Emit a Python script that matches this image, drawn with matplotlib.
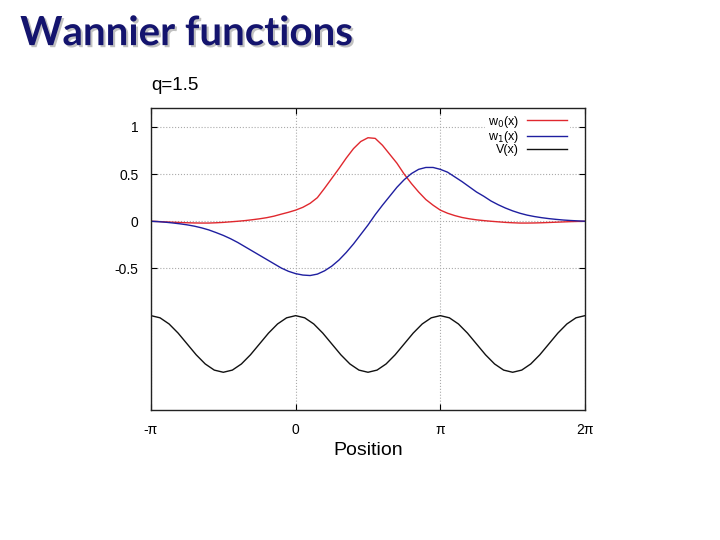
import numpy as np
import matplotlib
matplotlib.use('Agg')
import matplotlib.pyplot as plt
import matplotlib.patheffects as pe

# positions in units of pi
x_w = [-1.00, -0.95, -0.90, -0.85, -0.80, -0.75, -0.70, -0.65, -0.60, -0.55,
       -0.50, -0.45, -0.40, -0.35, -0.30, -0.25, -0.20, -0.15, -0.10, -0.05,
       0.00, 0.05, 0.10, 0.15, 0.20, 0.25, 0.30, 0.35, 0.40, 0.45,
       0.50, 0.55, 0.60, 0.65, 0.70, 0.75, 0.80, 0.85, 0.90, 0.95,
       1.00, 1.05, 1.10, 1.15, 1.20, 1.25, 1.30, 1.35, 1.40, 1.45,
       1.50, 1.55, 1.60, 1.65, 1.70, 1.75, 1.80, 1.85, 1.90, 1.95, 2.00]

w0 = [0.000, -0.003, -0.007, -0.010, -0.013, -0.016, -0.018, -0.019, -0.019, -0.016,
      -0.012, -0.006, 0.000, 0.007, 0.016, 0.026, 0.038, 0.054, 0.075, 0.095,
      0.118, 0.148, 0.190, 0.250, 0.350, 0.455, 0.560, 0.670, 0.770, 0.845,
      0.885, 0.878, 0.805, 0.710, 0.615, 0.500, 0.400, 0.310, 0.230, 0.170,
      0.118, 0.085, 0.060, 0.040, 0.026, 0.015, 0.007, 0.000, -0.006, -0.012,
      -0.016, -0.019, -0.019, -0.018, -0.016, -0.013, -0.010, -0.007, -0.004, -0.002, 0.000]

w1 = [0.000, -0.004, -0.010, -0.018, -0.027, -0.038, -0.052, -0.070, -0.092, -0.120,
      -0.150, -0.185, -0.225, -0.270, -0.315, -0.360, -0.405, -0.450, -0.495, -0.530,
      -0.555, -0.570, -0.575, -0.560, -0.525, -0.475, -0.410, -0.330, -0.240, -0.140,
      -0.040, 0.070, 0.170, 0.265, 0.360, 0.440, 0.505, 0.550, 0.570, 0.570,
      0.550, 0.520, 0.470, 0.420, 0.365, 0.310, 0.265, 0.215, 0.175, 0.140,
      0.110, 0.085, 0.065, 0.050, 0.038, 0.028, 0.020, 0.013, 0.008, 0.004, 0.000]

x_v = [-1.0000, -0.9375, -0.8750, -0.8125, -0.7500, -0.6875, -0.6250, -0.5625,
       -0.5000, -0.4375, -0.3750, -0.3125, -0.2500, -0.1875, -0.1250, -0.0625,
       0.0000, 0.0625, 0.1250, 0.1875, 0.2500, 0.3125, 0.3750, 0.4375,
       0.5000, 0.5625, 0.6250, 0.6875, 0.7500, 0.8125, 0.8750, 0.9375,
       1.0000, 1.0625, 1.1250, 1.1875, 1.2500, 1.3125, 1.3750, 1.4375,
       1.5000, 1.5625, 1.6250, 1.6875, 1.7500, 1.8125, 1.8750, 1.9375, 2.0000]

V = [-1.000, -1.023, -1.088, -1.185, -1.300, -1.415, -1.512, -1.577,
     -1.600, -1.577, -1.512, -1.415, -1.300, -1.185, -1.088, -1.023,
     -1.000, -1.023, -1.088, -1.185, -1.300, -1.415, -1.512, -1.577,
     -1.600, -1.577, -1.512, -1.415, -1.300, -1.185, -1.088, -1.023,
     -1.000, -1.023, -1.088, -1.185, -1.300, -1.415, -1.512, -1.577,
     -1.600, -1.577, -1.512, -1.415, -1.300, -1.185, -1.088, -1.023, -1.000]

xticks = [-1, 0, 1, 2]
xtick_labels = ['-π', '0', 'π', '2π']
yticks = [-0.5, 0, 0.5, 1]
ytick_labels = ['-0.5', '0', '0.5', '1']

plt.rcParams['font.family'] = ['Liberation Sans', 'DejaVu Sans']

fig = plt.figure(figsize=(7.2, 5.4), dpi=100)
ax = fig.add_axes([0.2097, 0.2407, 0.6028, 0.5593])

ax.plot(x_w, w0, color='#e0282e', lw=1.0, label='w$_0$(x)')
ax.plot(x_w, w1, color='#1f1fa0', lw=1.0, label='w$_1$(x)')
ax.plot(x_v, V, color='#111111', lw=1.0, label='V(x)')

ax.set_xlim(-1, 2)
ax.set_ylim(-2, 1.2)
ax.set_xticks(xticks)
ax.set_xticklabels(xtick_labels, fontsize=10)
ax.set_yticks(yticks)
ax.set_yticklabels(ytick_labels, fontsize=10)
ax.tick_params(direction='in', length=4, width=0.8, top=True, right=True, pad=9)
ax.grid(True, color='#aaaaaa', linestyle=':', linewidth=0.8)
for s in ax.spines.values():
    s.set_color('#222222')
    s.set_linewidth(1.0)

ax.set_xlabel('Position', fontsize=14, labelpad=4)
ax.text(0.0, 1.045, 'q=1.5', transform=ax.transAxes, fontsize=13.5, ha='left', va='bottom')

leg = ax.legend(loc='upper right', bbox_to_anchor=(0.965, 0.99), markerfirst=False,
                frameon=True, fontsize=9, handlelength=3.2, handletextpad=0.7,
                labelspacing=-0.05, borderaxespad=0.0, borderpad=0.2)
leg.get_frame().set_edgecolor('none')
leg.get_frame().set_facecolor('white')
leg.get_frame().set_alpha(1.0)

fig.text(0.028, 0.972, 'Wannier functions', fontsize=29, fontweight='bold',
         color='#14146e', family=['Lato', 'DejaVu Sans'], ha='left', va='top',
         path_effects=[pe.withSimplePatchShadow(offset=(1.5, -1.5), shadow_rgbFace='#999999', alpha=0.6)])

fig.savefig('out.png', dpi=100)
